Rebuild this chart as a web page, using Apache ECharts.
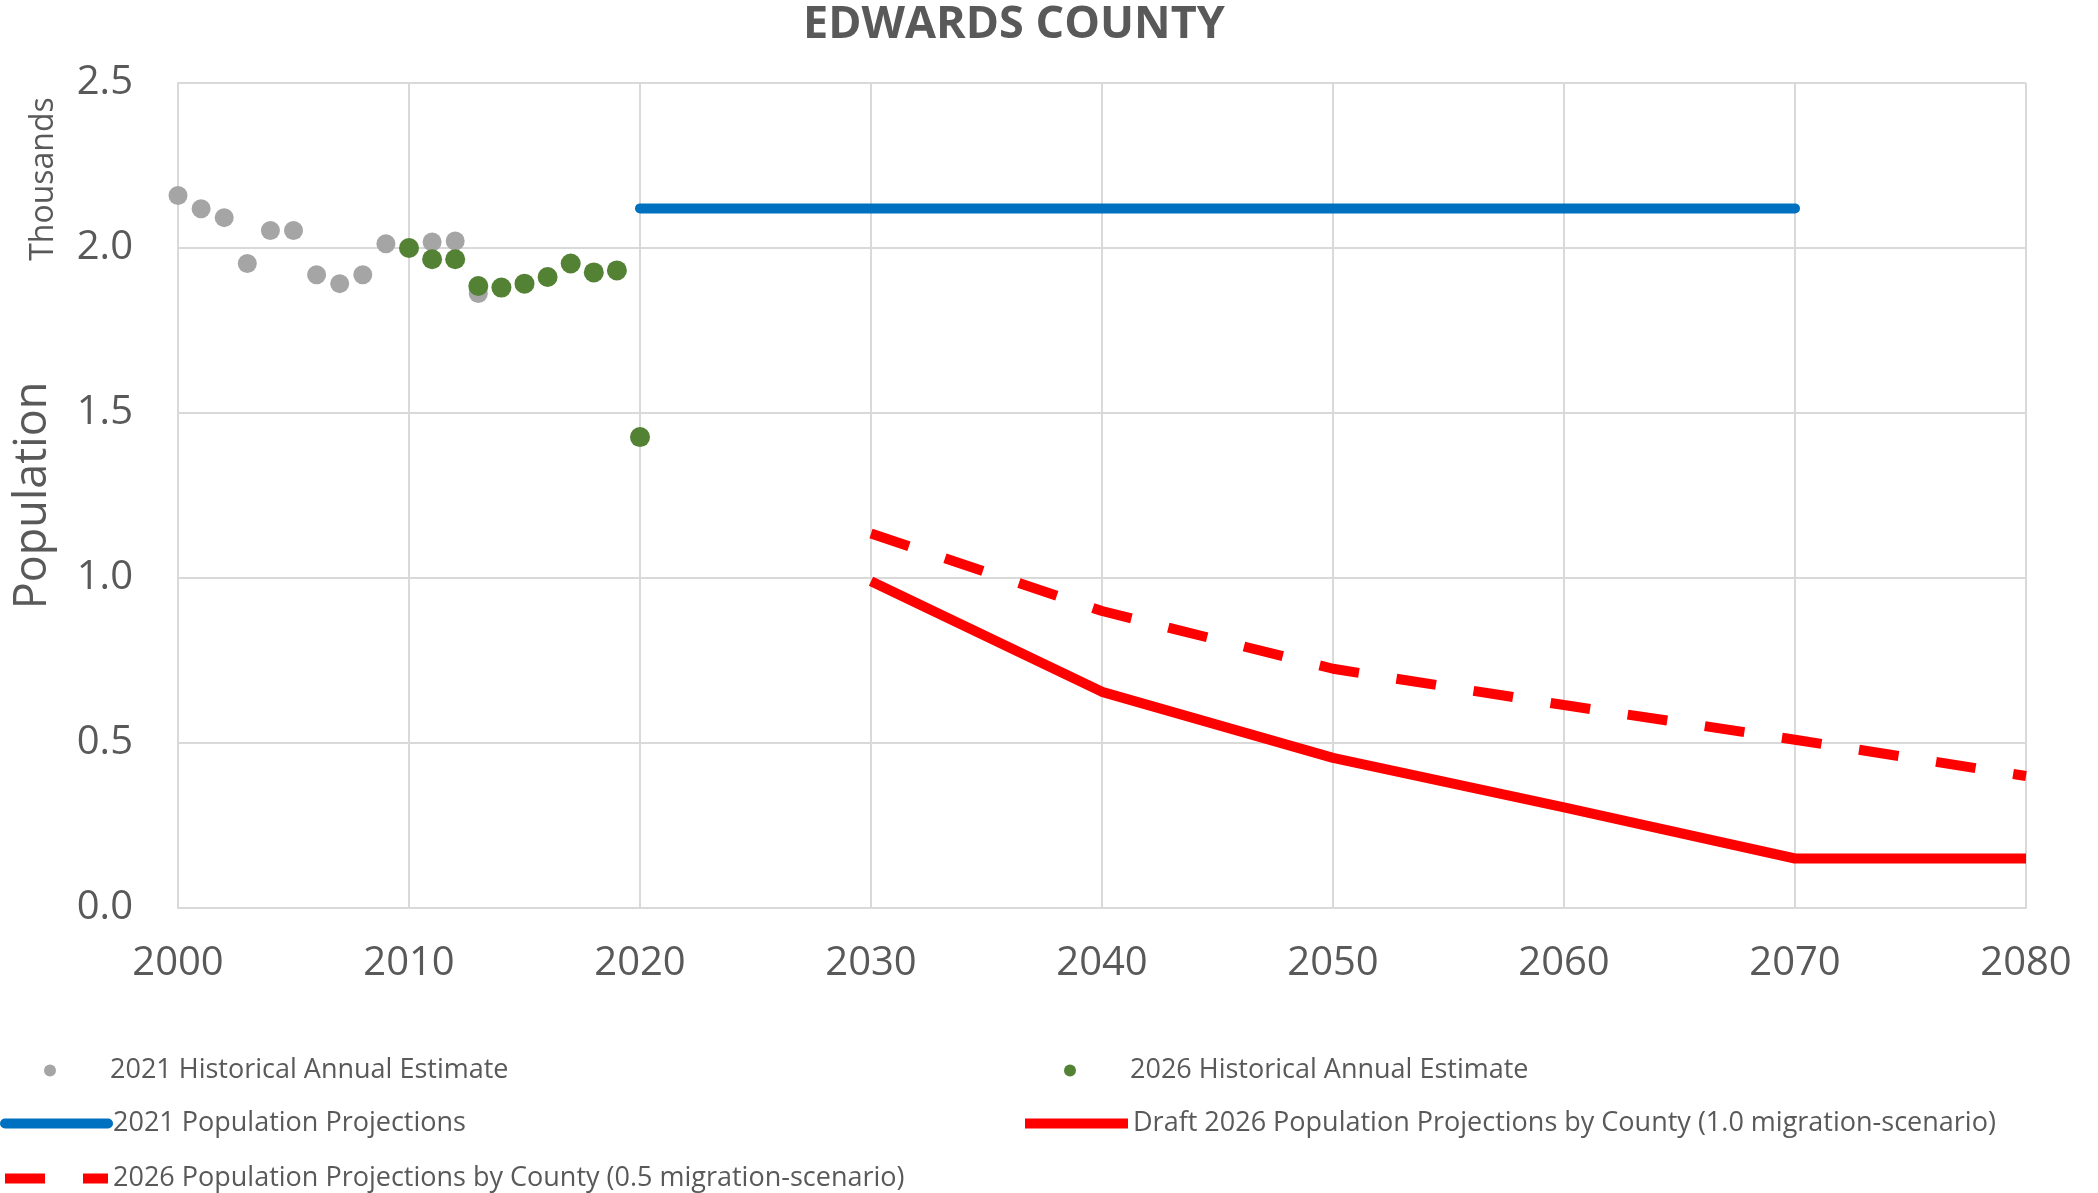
<!DOCTYPE html>
<html>
<head>
<meta charset="utf-8">
<script src="https://cdn.jsdelivr.net/npm/echarts@6/dist/echarts.min.js"></script>
<style>
html,body{margin:0;padding:0;background:#fff;}
#chart{width:2098px;height:1193px;}
</style>
</head>
<body>
<div id="chart"></div>
<script>
// ---- Data (population in thousands) ----
const titleText = 'EDWARDS COUNTY';
const hist2021Years = [2000, 2001, 2002, 2003, 2004, 2005, 2006, 2007, 2008, 2009, 2011, 2012, 2013];
const hist2021Values = [2.159, 2.119, 2.092, 1.953, 2.053, 2.053, 1.919, 1.892, 1.919, 2.013, 2.018, 2.021, 1.862];
const hist2026Years = [2010, 2011, 2012, 2013, 2014, 2015, 2016, 2017, 2018, 2019, 2020];
const hist2026Values = [2.000, 1.966, 1.966, 1.885, 1.880, 1.892, 1.912, 1.953, 1.926, 1.932, 1.427];
const proj2021Years = [2020, 2030, 2040, 2050, 2060, 2070];
const proj2021Values = [2.12, 2.12, 2.12, 2.12, 2.12, 2.12];
const proj2026Years = [2030, 2040, 2050, 2060, 2070, 2080];
const proj2026Mig10 = [0.99, 0.655, 0.455, 0.305, 0.15, 0.15];
const proj2026Mig05 = [1.135, 0.90, 0.725, 0.615, 0.51, 0.40];
const xTicks = [2000, 2010, 2020, 2030, 2040, 2050, 2060, 2070, 2080];
const yTicks = [0, 0.5, 1.0, 1.5, 2.0, 2.5];
const seriesNames = [
  '2021 Historical Annual Estimate',
  '2026 Historical Annual Estimate',
  '2021 Population Projections',
  'Draft 2026 Population Projections by County (1.0 migration-scenario)',
  '2026 Population Projections by County (0.5 migration-scenario)'
];

const zip = (xs, ys) => xs.map((x, i) => [x, ys[i]]);
const FONT = '"Open Sans", "Liberation Sans", sans-serif';
const TXT = '#595959';

const chart = echarts.init(document.getElementById('chart'), null, {renderer: 'canvas'});

const legendText = {color: TXT, fontSize: 27, fontFamily: FONT};
function mkLegend(name, left, top, opts) {
  return Object.assign({
    data: [name], left: left, top: top, padding: 0, orient: 'horizontal',
    itemWidth: 103, itemHeight: 10, textStyle: legendText, selectedMode: false
  }, opts || {});
}
// dot legends: small circle icon, text pushed to align with line legends
function mkDotLegend(name, left, top) {
  return {
    data: [{name: name, icon: 'circle'}], left: left, top: top, padding: 0,
    itemWidth: 12, itemHeight: 12, selectedMode: false,
    itemStyle: {opacity: 1},
    textStyle: Object.assign({}, legendText, {padding: [0, 0, 0, 49]})
  };
}

const option = {
  backgroundColor: '#ffffff',
  animation: false,
  title: {
    text: titleText, left: 803, top: 3, padding: 0,
    textStyle: {color: TXT, fontSize: 45, fontWeight: 'bold', fontFamily: FONT}
  },
  graphic: [{
    type: 'text', x: 44, y: 179, rotation: Math.PI / 2,
    style: {text: 'Thousands', fill: TXT, font: '32px ' + FONT, textAlign: 'center', textVerticalAlign: 'middle'}
  }],
  grid: {left: 178, right: 72, top: 83, bottom: 285, containLabel: false},
  xAxis: {
    type: 'value', min: xTicks[0], max: xTicks[xTicks.length - 1], interval: 10,
    axisLine: {show: true, lineStyle: {color: '#D9D9D9', width: 2}},
    axisTick: {show: false},
    splitLine: {show: true, lineStyle: {color: '#D9D9D9', width: 2}},
    axisLabel: {color: TXT, fontSize: 40, fontFamily: FONT, margin: 36, showMaxLabel: true, showMinLabel: true,
      formatter: v => String(v)}
  },
  yAxis: {
    type: 'value', min: yTicks[0], max: yTicks[yTicks.length - 1], interval: 0.5,
    name: 'Population', nameLocation: 'middle', nameRotate: 90, nameGap: 122,
    nameTextStyle: {color: TXT, fontSize: 45, fontFamily: FONT},
    axisLine: {show: true, lineStyle: {color: '#D9D9D9', width: 2}},
    axisTick: {show: false},
    splitLine: {show: true, lineStyle: {color: '#D9D9D9', width: 2}},
    axisLabel: {color: TXT, fontSize: 40, fontFamily: FONT, margin: 45, formatter: v => v.toFixed(1)}
  },
  legend: [
    mkDotLegend(seriesNames[0], 44, 1057),
    mkDotLegend(seriesNames[1], 1064, 1057),
    mkLegend(seriesNames[2], 0, 1110, {lineStyle: {width: 10}, itemStyle: {opacity: 0}}),
    mkLegend(seriesNames[3], 1020, 1110, {lineStyle: {width: 10}, itemStyle: {opacity: 0}}),
    mkLegend(seriesNames[4], 0, 1165, {lineStyle: {width: 10}, itemStyle: {opacity: 0}})
  ],
  series: [
    {
      name: seriesNames[0], type: 'scatter', data: zip(hist2021Years, hist2021Values),
      symbol: 'circle', symbolSize: 19, itemStyle: {color: '#A5A5A5', opacity: 1}, z: 3
    },
    {
      name: seriesNames[1], type: 'scatter', data: zip(hist2026Years, hist2026Values),
      symbol: 'circle', symbolSize: 20, itemStyle: {color: '#548235', opacity: 1}, z: 4
    },
    {
      name: seriesNames[2], type: 'line', data: zip(proj2021Years, proj2021Values),
      symbol: 'none', lineStyle: {color: '#0070C0', width: 10, cap: 'round'}, itemStyle: {color: '#0070C0'}, z: 5
    },
    {
      name: seriesNames[3], type: 'line', data: zip(proj2026Years, proj2026Mig10),
      symbol: 'none', lineStyle: {color: '#FF0000', width: 10, cap: 'butt', join: 'round'}, itemStyle: {color: '#FF0000'}, z: 5
    },
    {
      name: seriesNames[4], type: 'line', data: zip(proj2026Years, proj2026Mig05),
      symbol: 'none', lineStyle: {color: '#FF0000', width: 10, type: [40, 38], cap: 'butt'}, itemStyle: {color: '#FF0000'}, z: 5
    }
  ]
};
chart.setOption(option);
</script>
</body>
</html>
